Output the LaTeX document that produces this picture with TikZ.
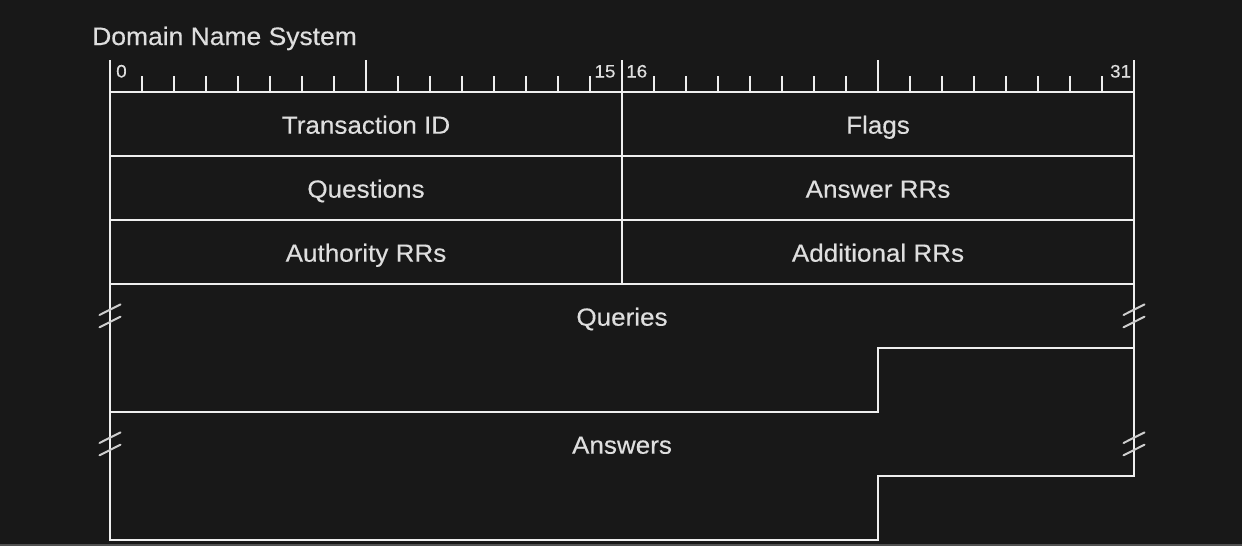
\documentclass[tikz,border=0pt]{standalone}
\usepackage{fontspec}
\setmainfont{Liberation Sans}[FakeStretch=1.05,FakeBold=0.35]
\definecolor{bg}{HTML}{181818}
\definecolor{fg}{HTML}{EEEEEE}
\definecolor{txt}{HTML}{DEDEDE}
\definecolor{framegray}{HTML}{505050}
\begin{document}
\begin{tikzpicture}[x=1pt,y=-1pt,
  ln/.style={draw=fg,line width=2pt,line cap=rect,line join=miter},
  tk/.style={draw=fg,line width=2pt},
  brk/.style={draw=fg!85!bg,line width=2pt,line cap=round},
  lbl/.style={text=txt,font=\fontsize{24.8}{28}\selectfont,inner sep=0pt,anchor=base},
  num/.style={text=txt,font=\fontsize{18}{21}\selectfont,inner sep=0pt}]
\fill[bg] (0,0) rectangle (1242,546);
\useasboundingbox (0,0) rectangle (1242,546);
\fill[framegray] (0,543.5) rectangle (1242,546);
% title
\node[lbl,anchor=base west,font=\fontsize{25.2}{30}\selectfont] (title) at (92,45) {Domain Name System};
% ruler
\foreach \i in {0,...,32} {\draw[tk] ({110+32*\i},76) -- ({110+32*\i},92);}
\foreach \i in {0,8,16,24,32} {\draw[tk] ({110+32*\i},60) -- ({110+32*\i},92);}
\node[num,anchor=base west] (n0) at (116,77.5) {0};
\node[num,anchor=base east] (n15) at (615.7,77.5) {15};
\node[num,anchor=base west] (n16) at (626,77.5) {16};
\node[num,anchor=base east] (n31) at (1131.3,77.5) {31};
% fixed header rows
\draw[ln] (110,92) rectangle (1134,284);
\draw[ln] (110,156) -- (1134,156);
\draw[ln] (110,220) -- (1134,220);
\draw[ln] (622,92) -- (622,284);
% variable-length sections
\draw[ln] (110,284) -- (110,412) -- (878,412) -- (878,348) -- (1134,348) -- (1134,284);
\draw[ln] (110,412) -- (110,540) -- (878,540) -- (878,476) -- (1134,476) -- (1134,348);
% break marks
\foreach \x/\y in {110/316,1134/316,110/444,1134/444} {
  \draw[brk] ({\x-10.5},{\y-1}) -- ({\x+10.5},{\y-11.6});
  \draw[brk] ({\x-10.5},{\y+11.3}) -- ({\x+10.5},{\y+0.7});
}
% labels
\node[lbl] (tid) at (366,133.7) {Transaction ID};
\node[lbl] (flags) at (878,133.7) {Flags};
\node[lbl] (qs) at (366,197.7) {Questions};
\node[lbl] (ans) at (878,197.7) {Answer RRs};
\node[lbl] (auth) at (366,261.7) {Authority RRs};
\node[lbl] (add) at (878,261.7) {Additional RRs};
\node[lbl] (queries) at (622,325.7) {Queries};
\node[lbl] (answers) at (622,453.7) {Answers};
\end{tikzpicture}
\end{document}
